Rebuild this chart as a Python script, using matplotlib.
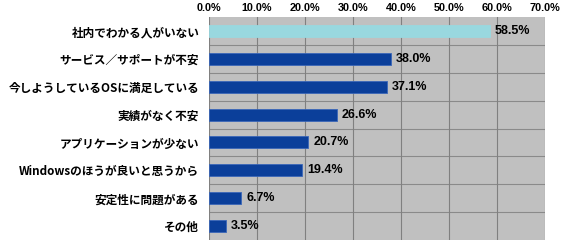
import matplotlib
matplotlib.use("Agg")
import matplotlib.pyplot as plt
from matplotlib.ticker import MultipleLocator, FuncFormatter

categories = ["社内でわかる人がいない", "サービス／サポートが不安", "今しようしているOSに満足している",
              "実績がなく不安", "アプリケーションが少ない", "Windowsのほうが良いと思うから",
              "安定性に問題がある", "その他"]
values = [58.5, 38.0, 37.1, 26.6, 20.7, 19.4, 6.7, 3.5]
value_labels = ["58.5%", "38.0%", "37.1%", "26.6%", "20.7%", "19.4%", "6.7%", "3.5%"]
colors = ["#99D8DF"] + ["#0B3F9A"] * 7

fig = plt.figure(figsize=(5.65, 2.45), dpi=100)
ax = fig.add_axes([209/565, 1-240/245, (545-209)/565, (240-17)/245])
ax.set_facecolor("#C0C0C0")
n = len(categories)
y = list(range(n))
ax.barh(y, values, height=0.43, color=colors, edgecolor=["#99D8DF"] + ["#3A66B8"] * 7,
        linewidth=0.6, zorder=3)
ax.set_xlim(0, 70)
ax.set_ylim(n - 0.5, -0.5)
ax.xaxis.set_major_locator(MultipleLocator(10))
ax.xaxis.set_major_formatter(FuncFormatter(lambda v, p: f"{v:.1f}%"))
ax.xaxis.tick_top()
ax.set_yticks(y)
ax.set_yticklabels(categories, fontsize=8.4, fontweight="bold",
                   family=["Noto Sans CJK JP", "DejaVu Sans"])
for lab in ax.get_xticklabels():
    lab.set_fontfamily(["Liberation Sans", "DejaVu Sans"])
    lab.set_fontweight("bold")
    lab.set_fontsize(7.8)
ax.tick_params(axis="x", length=0, pad=3)
ax.tick_params(axis="y", length=0, pad=7)
ax.grid(axis="x", color="#808080", linewidth=0.8, zorder=1)
for b in [i + 0.5 for i in range(n - 1)]:
    ax.axhline(b, color="#8A8A8A", linewidth=0.8, zorder=1)
for s in ax.spines.values():
    s.set_visible(False)
for yi, v, t in zip(y, values, value_labels):
    ax.annotate(t, (v, yi), xytext=(3.5, 0), textcoords="offset points", va="center", ha="left",
                fontsize=9, fontweight="bold", family=["Liberation Sans", "DejaVu Sans"], zorder=4)
fig.savefig("out.png", dpi=100, facecolor="white")
